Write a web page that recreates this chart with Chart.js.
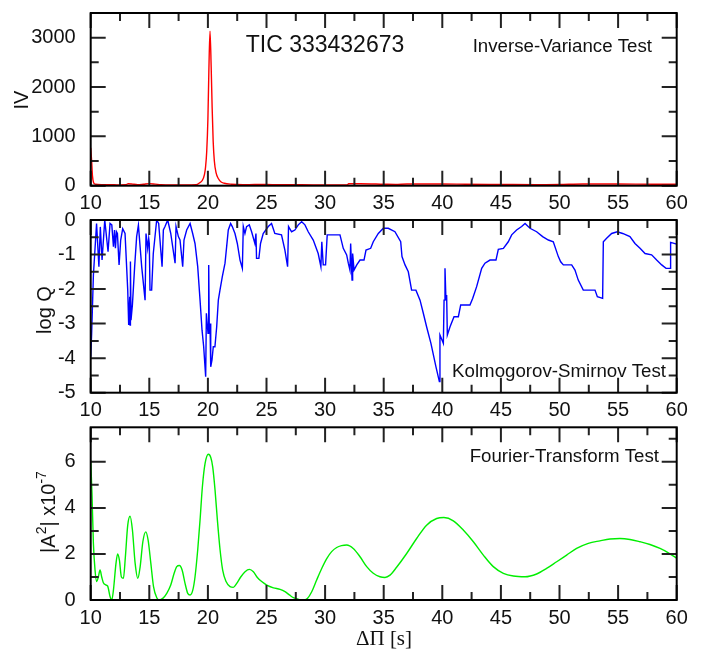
<!DOCTYPE html>
<html>
<head>
<meta charset="utf-8">
<title>TIC 333432673</title>
<script src="https://cdn.jsdelivr.net/npm/chart.js@4.4.1/dist/chart.umd.min.js"></script>
<style>
  html, body { margin: 0; padding: 0; background: #fff; }
  #wrap { position: relative; width: 703px; height: 653px; }
  canvas { position: absolute; left: 0; }
</style>
</head>
<body>
<div id="wrap">
  <canvas id="ivChart" width="703" height="218" style="top:0px"></canvas>
  <canvas id="ksChart" width="703" height="225" style="top:200px"></canvas>
  <canvas id="ftChart" width="703" height="248" style="top:405px"></canvas>
</div>
<script>
// x ticks shared by all three panels
let xTicks = [10, 15, 20, 25, 30, 35, 40, 45, 50, 55, 60];
let xMinor = [12.5, 17.5, 22.5, 27.5, 32.5, 37.5, 42.5, 47.5, 52.5, 57.5];

// inverse-variance test
let ivX = [10.0, 10.08, 10.15, 10.25, 10.4, 11, 12, 12.5, 13, 13.2, 13.5, 14, 14.5, 15, 15.5, 16, 17, 18, 19,
  19.3, 19.5, 19.7, 19.8, 19.9, 20.0, 20.08, 20.18, 20.28, 20.36, 20.45, 20.55, 20.7, 20.9, 21.1, 21.4, 22,
  23, 24, 25, 26, 28, 30, 31.9, 32, 33, 35, 36, 37, 40, 42, 45, 48, 50, 52, 55, 58, 60];
let ivY = [770, 500, 200, 60, 30, 20, 18, 15, 18, 40, 35, 20, 30, 42, 32, 20, 15, 15, 20,
  60, 100, 220, 380, 700, 1350, 2300, 3130, 2400, 1600, 900, 500, 260, 140, 80, 50, 30,
  20, 25, 25, 20, 20, 15, 15, 40, 40, 30, 25, 35, 35, 30, 25, 20, 25, 35, 35, 30, 30];
let ivTicks = [0, 1000, 2000, 3000];
let ivMinor = [500, 1500, 2500];

// Kolmogorov-Smirnov test
let ksX = [10.0, 10.08, 10.23, 10.5, 10.7, 10.82, 10.97, 11.2, 11.48, 11.65, 11.8, 11.94, 12.03, 12.11, 12.2,
  12.28, 12.42, 12.56, 12.73, 12.93, 13.16, 13.24, 13.33, 13.36, 13.39, 13.44, 13.56, 13.75, 13.92, 14.07,
  14.35, 14.64, 14.72, 14.86, 14.95, 15.0, 15.06, 15.2, 15.34, 15.63, 15.8, 16.09, 16.2, 16.34, 16.57, 16.83,
  17.2, 17.28, 17.48, 17.62, 17.85, 17.96, 18.19, 18.48, 18.7, 18.9, 19.13, 19.33, 19.5, 19.64, 19.81, 19.87,
  20.01, 20.07, 20.12, 20.18, 20.24, 20.35, 20.46, 20.6, 20.75, 20.89, 21.03, 21.23, 21.46, 21.6, 21.74, 21.94,
  22.08, 22.31, 22.51, 22.74, 22.94, 23.02, 23.16, 23.3, 23.53, 23.73, 24.01, 24.1, 24.15, 24.35, 24.49, 24.72,
  25.15, 25.43, 25.71, 26.28, 26.57, 26.8, 26.88, 27.14, 27.42, 27.71, 28.0, 28.28, 28.56, 28.99, 29.41, 29.64,
  29.72, 29.84, 30.04, 30.18, 31.27, 31.55, 31.84, 31.98, 32.12, 32.18, 32.3, 32.35, 32.47, 32.7, 32.98, 33.32,
  33.49, 33.89, 34.11, 34.54, 34.97, 35.39, 35.96, 36.45, 36.56, 36.82, 37.1, 37.38, 37.75, 38.1, 38.38, 38.66,
  39.03, 39.46, 39.75, 39.8, 40.09, 40.15, 40.23, 40.31, 40.37, 40.43, 40.66, 41.0, 41.37, 41.57, 42.36, 42.59,
  42.93, 43.36, 43.64, 44.07, 44.58, 44.78, 45.21, 45.63, 45.92, 46.34, 46.77, 47.06, 47.48, 48.05, 48.56, 49.05,
  49.47, 49.9, 50.1, 50.33, 51.04, 51.32, 51.6, 52.03, 53.03, 53.23, 53.68, 53.74, 54.02, 54.45, 54.93, 55.39,
  56.01, 56.44, 56.87, 57.3, 57.86, 58.29, 58.72, 59.09, 59.43, 59.48, 60.0];
let ksY = [-3.96, -3.3, -1.6, -0.1, -1.35, -0.2, -1.16, 0, -0.92, -0.1, -0.14, -0.77, -0.29, -0.82, -0.34,
  -0.39, -1.3, -0.58, -0.25, -0.39, -2.03, -3.04, -2.22, -3.04, -1.2, -2.9, -2.45, -1.35, -0.48, -0.15,
  -1.35, -2.32, -0.39, -0.82, -0.53, -0.68, -2.03, -2.03, -0.97, 0, -0.1, -1.35, -0.29, -0.19, 0, -0.39,
  -1.25, -0.19, -0.48, -0.58, -1.35, -0.58, -0.29, -0.1, -0.39, -0.68, -1.35, -2.32, -3.19, -3.67, -4.54, -2.7,
  -3.28, -1.3, -3.28, -3.0, -4.25, -4.05, -3.67, -3.67, -3.09, -2.32, -2.03, -1.64, -1.25, -0.77, -0.29, -0.1,
  -0.19, -0.39, -0.68, -1.16, -1.4, -0.19, -0.39, -0.19, -0.14, -0.34, -0.68, -0.39, -1.11, -1.11, -0.68, -0.39,
  -0.19, -0.1, -0.39, -0.43, -0.87, -1.35, -0.19, -0.34, -0.29, -0.14, -0.05, -0.14, -0.34, -0.58, -0.97, -1.35,
  -0.63, -1.3, -1.3, -0.43, -0.43, -0.82, -1.01, -1.25, -1.45, -0.68, -1.74, -0.97, -1.45, -1.3, -1.16, -1.16,
  -0.87, -0.82, -0.63, -0.39, -0.24, -0.24, -0.34, -0.63, -1.06, -1.3, -1.5, -2.03, -2.03, -2.32, -2.7, -3.09,
  -3.57, -4.25, -4.68, -3.33, -3.57, -2.32, -1.4, -2.32, -2.17, -3.33, -3.09, -2.8, -2.8, -2.46, -2.46, -2.27,
  -1.93, -1.4, -1.25, -1.16, -1.16, -0.85, -0.82, -0.63, -0.43, -0.29, -0.19, -0.1, -0.24, -0.34, -0.48, -0.58,
  -0.63, -1.06, -1.21, -1.3, -1.3, -1.45, -1.74, -2.03, -2.03, -2.22, -2.27, -0.63, -0.53, -0.39, -0.34, -0.39,
  -0.48, -0.68, -0.82, -0.97, -1.01, -1.16, -1.3, -1.4, -1.4, -0.65, -0.7];
let ksTicks = [-5, -4, -3, -2, -1, 0];
let ksMinor = [-4.5, -3.5, -2.5, -1.5, -0.5];

// Fourier-transform test (units of 1e-7)
let ftX = [10.0, 10.11, 10.23, 10.37, 10.51, 10.65, 10.8, 10.94, 11.08, 11.31, 11.45, 11.65, 11.8, 11.94, 12.16,
  12.3, 12.45, 12.62, 12.79, 12.96, 13.16, 13.36, 13.56, 13.79, 14.02, 14.22, 14.45, 14.7, 14.9, 15.13, 15.36,
  15.64, 15.87, 16.15, 16.49, 16.83, 17.12, 17.34, 17.57, 17.8, 18.05, 18.28, 18.48, 18.71, 18.9, 19.13, 19.33,
  19.53, 19.76, 20.04, 20.24, 20.41, 20.61, 20.81, 21.04, 21.26, 21.55, 21.89, 22.17, 22.46, 22.8, 23.17, 23.54,
  23.88, 24.22, 24.59, 25.02, 25.59, 26.16, 26.58, 26.95, 27.29, 27.72, 28.15, 28.49, 28.86, 29.28, 29.71, 30.14,
  30.56, 30.99, 31.4, 31.84, 32.4, 32.98, 33.55, 34.11, 34.68, 35.11, 35.54, 36.1, 36.96, 37.81, 38.66, 39.52,
  40.14, 40.94, 41.79, 42.65, 43.5, 44.35, 45.21, 46.06, 47.06, 48.05, 48.9, 49.76, 50.61, 51.46, 52.46, 53.45,
  54.31, 55.16, 56.01, 56.87, 57.72, 58.58, 59.29, 60];
let ftY = [6.07, 4.6, 2.46, 1.3, 0.8, 1.0, 1.3, 1.0, 0.75, 0.65, 0.6, 0.15, 0.0, 0.43, 1.6,
  2.0, 1.73, 1.0, 0.94, 1.88, 3.25, 3.64, 3.04, 1.6, 0.94, 1.45, 2.53, 2.96, 2.6, 1.6, 0.58,
  0.1, 0.0, 0.07, 0.29, 0.65, 1.16, 1.45, 1.5, 1.3, 0.72, 0.29, 0.22, 0.43, 1.0, 2.17, 3.47,
  4.92, 5.93, 6.33, 6.2, 5.78, 4.77, 3.47, 2.17, 1.3, 0.8, 0.58, 0.55, 0.72, 1.0, 1.23, 1.33,
  1.23, 0.98, 0.8, 0.65, 0.53, 0.46, 0.36, 0.22, 0.1, 0.03, 0.0, 0.07, 0.36, 0.87, 1.37, 1.8,
  2.1, 2.28, 2.36, 2.39, 2.24, 1.88, 1.45, 1.16, 1.01, 0.98, 1.08, 1.42, 2.02, 2.67, 3.25, 3.54,
  3.58, 3.44, 3.04, 2.53, 1.95, 1.45, 1.16, 1.04, 1.01, 1.13, 1.37, 1.66, 1.95, 2.24, 2.46, 2.57,
  2.65, 2.67, 2.63, 2.53, 2.41, 2.24, 2.05, 1.81];
let ftTicks = [0, 2, 4, 6];
let ftMinor = [1, 3, 5, 7];

let sans = "'Liberation Sans', Arial, sans-serif";

function toPoints(xs, ys) {
  return xs.map((x, i) => ({ x: x, y: ys[i] }));
}

// frame + inward ticks on all four sides, plus the free texts
let frameTicks = {
  id: "frameTicks",
  afterDraw(chart, args, opts) {
    let ctx = chart.ctx;
    let a = chart.chartArea;
    let xs = chart.scales.x;
    let ys = chart.scales.y;
    ctx.save();
    ctx.strokeStyle = "#222";
    ctx.lineWidth = 2;
    ctx.beginPath();
    function xTick(v, len) {
      let p = xs.getPixelForValue(v);
      ctx.moveTo(p, a.bottom); ctx.lineTo(p, a.bottom - len);
      ctx.moveTo(p, a.top); ctx.lineTo(p, a.top + len);
    }
    function yTick(v, len) {
      let p = ys.getPixelForValue(v);
      ctx.moveTo(a.left, p); ctx.lineTo(a.left + len, p);
      ctx.moveTo(a.right, p); ctx.lineTo(a.right - len, p);
    }
    xTicks.forEach((v) => xTick(v, 15));
    xMinor.forEach((v) => xTick(v, 8));
    opts.yMajor.forEach((v) => yTick(v, 15));
    opts.yMinor.forEach((v) => yTick(v, 8));
    ctx.stroke();
    ctx.strokeStyle = "#000";
    ctx.strokeRect(a.left, a.top, a.right - a.left, a.bottom - a.top);

    ctx.fillStyle = "#111";
    ctx.textBaseline = "alphabetic";
    (opts.texts || []).forEach((t) => {
      ctx.font = t.font;
      ctx.textAlign = t.align || "left";
      ctx.fillText(t.text, t.x, t.y);
    });

    // rotated y title, built from pieces so superscripts work
    let title = opts.yTitle;
    ctx.translate(title.x, title.y);
    ctx.rotate(-Math.PI / 2);
    ctx.textAlign = "left";
    let total = 0;
    title.parts.forEach((p) => {
      ctx.font = (p.sup ? "14px " : "20px ") + sans;
      total += ctx.measureText(p.t).width;
    });
    let cx = -total / 2;
    title.parts.forEach((p) => {
      ctx.font = (p.sup ? "14px " : "20px ") + sans;
      ctx.fillText(p.t, cx, p.sup ? -9 : 0);
      cx += ctx.measureText(p.t).width;
    });
    ctx.restore();
  },
};

function makePanel(id, xs, ys, color, yMin, yMax, yMajor, yMinor, padTop, xHeight, smooth, extra) {
  let ctx = document.getElementById(id).getContext("2d");
  return new Chart(ctx, {
    type: "line",
    data: {
      datasets: [
        {
          data: toPoints(xs, ys),
          borderColor: color,
          borderWidth: 1.4,
          pointRadius: 0,
          fill: false,
          cubicInterpolationMode: smooth ? "monotone" : "default",
          tension: 0,
        },
      ],
    },
    options: {
      responsive: false,
      animation: false,
      events: [],
      layout: { padding: { top: padTop, right: 26.3, left: 0, bottom: 0 } },
      plugins: {
        legend: { display: false },
        tooltip: { enabled: false },
        frameTicks: Object.assign({ yMajor: yMajor, yMinor: yMinor }, extra),
      },
      scales: {
        x: {
          type: "linear",
          min: 10,
          max: 60,
          grid: { display: false },
          border: { display: false },
          afterBuildTicks: (s) => { s.ticks = xTicks.map((v) => ({ value: v })); },
          afterFit: (s) => { s.height = xHeight; s.paddingLeft = 0; s.paddingRight = 0; },
          ticks: {
            autoSkip: false, maxRotation: 0, padding: -2, color: "#111",
            font: { family: sans, size: 20 },
            callback: (v) => String(v),
          },
        },
        y: {
          type: "linear",
          min: yMin,
          max: yMax,
          grid: { display: false },
          border: { display: false },
          afterBuildTicks: (s) => { s.ticks = yMajor.map((v) => ({ value: v })); },
          afterFit: (s) => { s.width = 90.7; s.paddingTop = 0; s.paddingBottom = 0; },
          ticks: {
            padding: 7, color: "#111",
            font: { family: sans, size: 20 },
            callback: (v) => String(v),
          },
        },
      },
    },
    plugins: [frameTicks],
  });
}

// canvas 1: 0..218, canvas 2: 200..425, canvas 3: 405..653 (all transparent, overlapping)
makePanel("ivChart", ivX, ivY, "#ff0000", 0, 3500, ivTicks, ivMinor, 13, 32.3, true, {
  texts: [
    { text: "TIC 333432673", x: 325, y: 51.5, align: "center", font: "23px " + sans },
    { text: "Inverse-Variance Test", x: 652, y: 51.5, align: "right", font: "18.7px " + sans },
  ],
  yTitle: { x: 28, y: 100, parts: [{ t: "IV" }] },
});

makePanel("ksChart", ksX, ksY, "#0000ff", -5, 0, ksTicks, ksMinor, 20, 32.3, false, {
  texts: [
    { text: "Kolmogorov-Smirnov Test", x: 666, y: 376.7 - 200, align: "right", font: "18.7px " + sans },
  ],
  yTitle: { x: 51, y: 110, parts: [{ t: "log Q" }] },
});

makePanel("ftChart", ftX, ftY, "#00ee00", 0, 7.5, ftTicks, ftMinor, 22.3, 53, true, {
  texts: [
    { text: "Fourier-Transform Test", x: 659, y: 461.7 - 405, align: "right", font: "18.7px " + sans },
    { text: "\u0394\u03a0 [s]", x: 384, y: 645 - 405, align: "center", font: "21px 'Liberation Serif', 'Times New Roman', serif" },
  ],
  yTitle: {
    x: 55,
    y: 107,
    parts: [{ t: "|A" }, { t: "2", sup: true }, { t: "| x10" }, { t: "-7", sup: true }],
  },
});
</script>
</body>
</html>
